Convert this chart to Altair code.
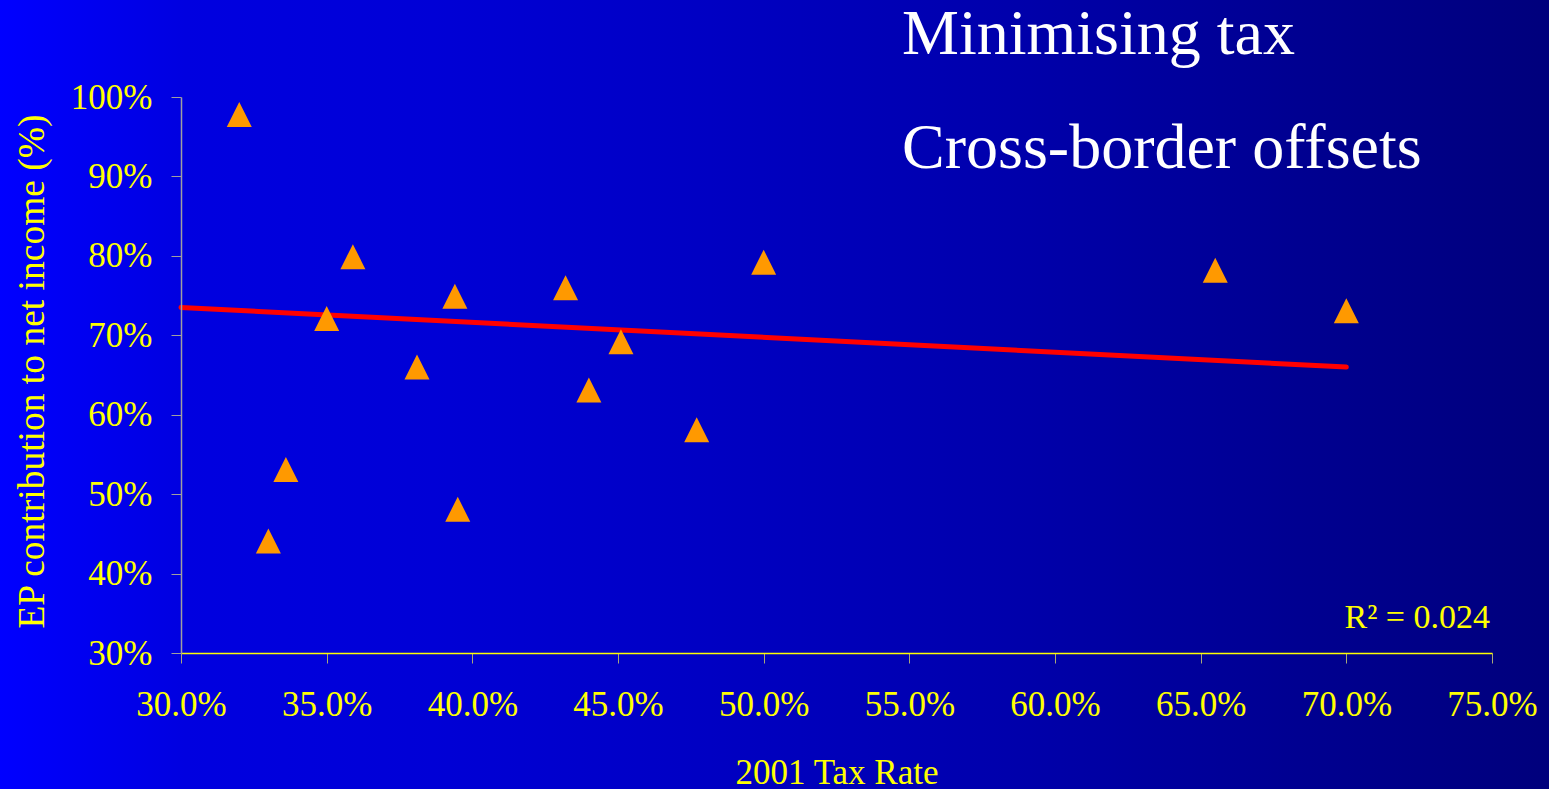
import altair as alt
import pandas as pd

# 2001 statutory tax rate (%) and EP contribution to net income (%)
tax_rate = [32.0, 33.0, 33.6, 35.0, 35.9, 38.1, 39.4, 39.5, 43.2, 44.0, 45.1, 47.7, 50.0, 65.5, 70.0]
ep_share = [97.8, 44.1, 53.1, 72.1, 79.9, 66.0, 74.9, 48.1, 76.0, 63.1, 69.2, 58.1, 79.2, 78.2, 73.1]

# fitted trend line end points
trend_x = [30.0, 70.0]
trend_y = [73.5, 66.0]

r2_text = ["R² = 0.024"]
r2_x = [75.0]
r2_y = [33.1]

titles = ["Minimising tax", "Cross-border offsets"]

x_ticks = [30, 35, 40, 45, 50, 55, 60, 65, 70, 75]
y_ticks = [30, 40, 50, 60, 70, 80, 90, 100]

W, H = 1311, 556
PAD = {"left": 181, "top": 97, "right": 57, "bottom": 136}

FONT = "Liberation Serif"
YELLOW = "#FFFF00"

points = pd.DataFrame({"tax": tax_rate, "ep": ep_share})
trend = pd.DataFrame({"tax": trend_x, "ep": trend_y})
r2 = pd.DataFrame({"label": r2_text, "tax": r2_x, "ep": r2_y})

x_scale = alt.Scale(domain=[30, 75], nice=False, zero=False)
y_scale = alt.Scale(domain=[30, 100], nice=False, zero=False)

x_axis = alt.Axis(
    values=x_ticks,
    labelExpr="format(datum.value, '.1f') + '%'",
    title="2001 Tax Rate",
    grid=False,
    zindex=1,
    domainColor=YELLOW,
    domainWidth=1.5,
    tickColor="#A8A878",
    tickSize=10,
    labelPadding=24,
    labelFlush=False,
    labelOverlap=False,
    labelColor=YELLOW,
    labelFont=FONT,
    labelFontSize=35,
    labelBaseline="top",
    titleColor=YELLOW,
    titleFont=FONT,
    titleFontSize=35,
    titleFontWeight="normal",
    titleBaseline="alphabetic",
    titleY=130,
)

y_axis = alt.Axis(
    values=y_ticks,
    labelExpr="datum.value + '%'",
    title="EP contribution to net income (%)",
    grid=False,
    zindex=1,
    domainColor="#A0A0A0",
    domainWidth=1.5,
    tickColor="#A0A0A0",
    tickSize=10,
    labelPadding=19,
    labelFlush=False,
    labelOverlap=False,
    labelColor=YELLOW,
    labelFont=FONT,
    labelFontSize=35,
    titleColor=YELLOW,
    titleFont=FONT,
    titleFontSize=37.5,
    titleFontWeight="normal",
    titleBaseline="middle",
    titleX=-149,
    titleY=274,
)

# horizontal blue gradient behind the whole slide
gradient = alt.LinearGradient(
    gradient="linear",
    x1=0, x2=1, y1=0, y2=0,
    stops=[
        alt.GradientStop(color="#0000FF", offset=0.0),
        alt.GradientStop(color="#0000E0", offset=0.12),
        alt.GradientStop(color="#0000D6", offset=0.28),
        alt.GradientStop(color="#0000C4", offset=0.45),
        alt.GradientStop(color="#0000AC", offset=0.65),
        alt.GradientStop(color="#000092", offset=0.83),
        alt.GradientStop(color="#00007C", offset=1.0),
    ],
)

background = alt.Chart(pd.DataFrame({"k": [0]})).mark_rect(
    fill=gradient, stroke=None
).encode(
    x=alt.value(-PAD["left"]),
    x2=alt.value(W + PAD["right"]),
    y=alt.value(-PAD["top"]),
    y2=alt.value(H + PAD["bottom"]),
)

trend_line = alt.Chart(trend).mark_line(
    color="#FF0000", strokeWidth=5, strokeCap="round"
).encode(
    x=alt.X("tax:Q", scale=x_scale, axis=x_axis),
    y=alt.Y("ep:Q", scale=y_scale, axis=y_axis),
)

markers = alt.Chart(points).mark_point(
    shape="M0,-1L1,1L-1,1Z",
    filled=True,
    size=625,
    color="#FF9900",
    opacity=1,
).encode(
    x=alt.X("tax:Q", scale=x_scale),
    y=alt.Y("ep:Q", scale=y_scale),
)

r2_label = alt.Chart(r2).mark_text(
    align="right",
    baseline="alphabetic",
    font=FONT,
    fontSize=34,
    color=YELLOW,
    dx=-2,
).encode(
    x=alt.X("tax:Q", scale=x_scale),
    y=alt.Y("ep:Q", scale=y_scale),
    text="label:N",
)


def slide_title(text, baseline_y):
    return alt.Chart(pd.DataFrame({"t": [text]})).mark_text(
        align="left",
        baseline="alphabetic",
        font=FONT,
        fontSize=64,
        color="#FFFFFF",
    ).encode(
        x=alt.value(721),
        y=alt.value(baseline_y),
        text="t:N",
    )


title_top = slide_title(titles[0], -43)
title_bottom = slide_title(titles[1], 71)

chart = alt.layer(
    background, trend_line, markers, r2_label, title_top, title_bottom
).properties(
    width=W,
    height=H,
    padding=PAD,
    autosize=alt.AutoSizeParams(type="none"),
    background="#0000C0",
).configure_view(
    stroke=None
)

chart.save("out.html", embed_options={"renderer": "svg", "actions": False})
